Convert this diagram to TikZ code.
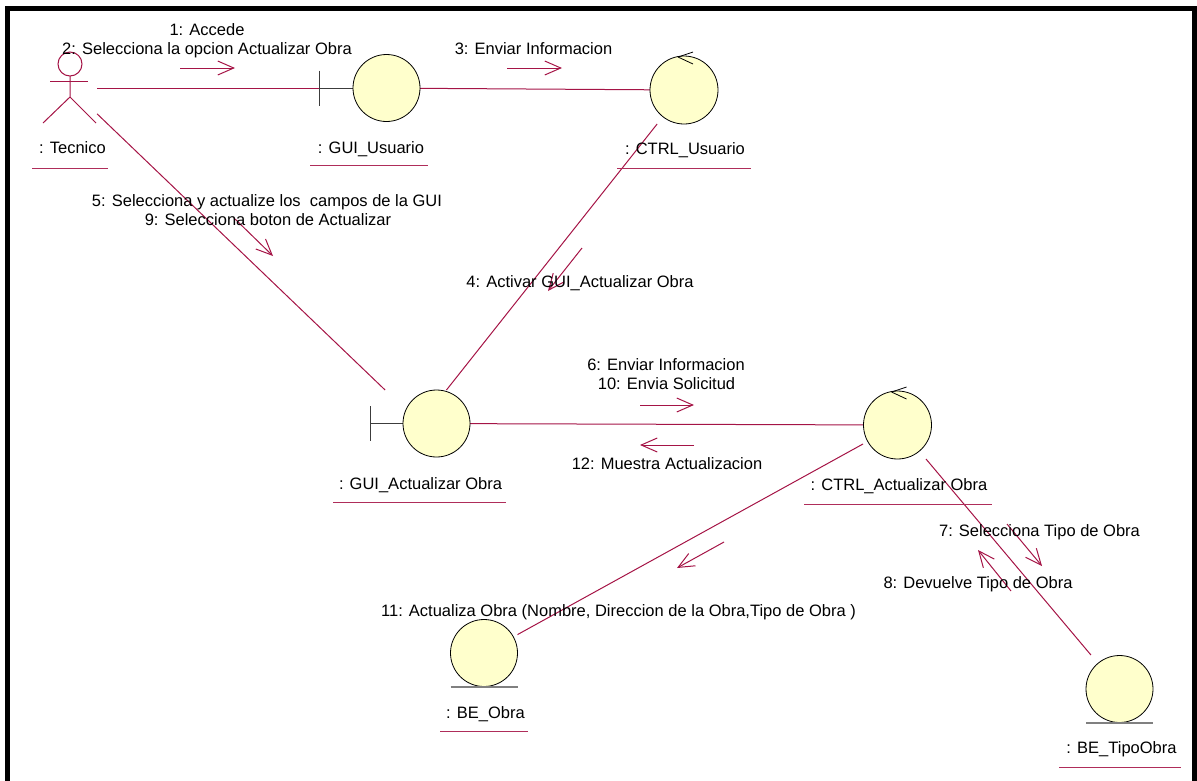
\documentclass[tikz,border=0pt]{standalone}
\usepackage{fontspec}
\setmainfont{Liberation Sans}
\usetikzlibrary{arrows.meta,calc}
\definecolor{link}{RGB}{165,20,70}
\definecolor{uline}{RGB}{175,45,90}
\definecolor{objfill}{RGB}{255,255,204}
\definecolor{barcol}{RGB}{60,60,60}
\definecolor{entline}{RGB}{128,128,128}
\begin{document}
\begin{tikzpicture}[x=1pt,y=-1pt,
  box/.style={rectangle, inner sep=0pt, outer sep=0pt},
  lnk/.style={draw=link, line width=1pt},
  msg/.style={draw=link, line width=1pt, -{Straight Barb[length=16pt,width=14pt]}},
  lbl/.style={font=\fontsize{16.5}{18}\selectfont, text=black, inner sep=0pt, anchor=base},
  ul/.style={draw=uline, line width=1pt},
  ball/.style={fill=objfill, draw=black, line width=0.8pt},
  bar/.style={draw=barcol, line width=1pt},
  ctlmark/.style={draw=black, line width=0.8pt},
  entbase/.style={draw=entline, line width=1.6pt},
  actor/.style={draw=link, line width=1pt},
]
\useasboundingbox (0,0) rectangle (1197,780);
\clip (0,0) rectangle (1197,780);

% outer frame (its lower edge lies below the page)
\draw[line width=5pt] (7.5,8.5) rectangle (1194,800);

% object boxes (links are clipped at these boxes)
\node[box, minimum width=54pt, minimum height=72pt]  (tec)  at (70,88) {};
\node[box, minimum width=101pt, minimum height=67pt] (guiu) at (369.5,88) {};
\node[box, minimum width=68pt, minimum height=68pt]  (ctlu) at (684,90) {};
\node[box, minimum width=100pt, minimum height=67pt] (guia) at (420,423.5) {};
\node[box, minimum width=69pt, minimum height=68pt]  (ctla) at (897.5,425) {};
\node[box, minimum width=67pt, minimum height=68pt]  (beo)  at (484,653) {};
\node[box, minimum width=67pt, minimum height=68pt]  (bet)  at (1119.5,689) {};

% links
\draw[lnk] (tec) -- (guiu);
\draw[lnk] (guiu) -- (ctlu);
\draw[lnk] (tec) -- (guia);
\draw[lnk] (ctlu) -- (guia);
\draw[lnk] (guia) -- (ctla);
\draw[lnk] (ctla) -- (beo);
\draw[lnk] (ctla) -- (bet);

% actor
\draw[actor] (70,64) circle[radius=12pt];
\draw[actor] (50,81) -- (88,81);
\draw[actor] (70,76) -- (70,97) -- (43,123) (70,97) -- (96,123);

% boundary objects
\draw[bar] ($(guiu.west)+(0,-17.5)$) -- ($(guiu.west)+(0,17.5)$);
\draw[bar] (guiu.west) -- ++(34,0);
\draw[ball] ($(guiu.east)+(-33.5,0)$) circle[radius=33.5pt];

\draw[bar] ($(guia.west)+(0,-17.5)$) -- ($(guia.west)+(0,17.5)$);
\draw[bar] (guia.west) -- ++(33,0);
\draw[ball] ($(guia.east)+(-33.5,0)$) circle[radius=33.5pt];

% control objects
\draw[ball] (ctlu.center) circle[radius=34pt];
\draw[ctlmark] ($(ctlu.north)+(-6,1)$) -- ++(15,-5) ($(ctlu.north)+(-6,1)$) -- ++(15,7);
\draw[ball] (ctla.center) circle[radius=34pt];
\draw[ctlmark] ($(ctla.north)+(-6,1)$) -- ++(15,-5) ($(ctla.north)+(-6,1)$) -- ++(15,7);

% entity objects
\draw[ball] (beo.center) circle[radius=33.5pt];
\draw[entbase] (beo.south west) -- (beo.south east);
\draw[ball] (bet.center) circle[radius=33.5pt];
\draw[entbase] (bet.south west) -- (bet.south east);

% object names
\node[lbl] (ntec)  at (72.5,153)  {: Tecnico};
\node[lbl] (nguiu) at (371,153)   {: GUI\_Usuario};
\node[lbl] (nctlu) at (685,154)   {: CTRL\_Usuario};
\node[lbl] (nguia) at (420.5,489) {: GUI\_Actualizar Obra};
\node[lbl] (nctla) at (899,490)   {: CTRL\_Actualizar Obra};
\node[lbl] (nbeo)  at (485.5,718) {: BE\_Obra};
\node[lbl] (nbet)  at (1121.5,753){: BE\_TipoObra};

\draw[ul] (32,168) -- (108,168);
\draw[ul] (310,165) -- (428,165);
\draw[ul] (617,168) -- (751,168);
\draw[ul] (333,502) -- (506,502);
\draw[ul] (804,504) -- (992,504);
\draw[ul] (440,731) -- (528,731);
\draw[ul] (1059,767) -- (1181,767);

% message arrows
\coordinate (m1a) at (180,68);   \coordinate (m1b) at (235,68);
\coordinate (m3a) at (507,68);   \coordinate (m3b) at (562,68);
\coordinate (m5a) at (234,218);  \coordinate (m5b) at (273,256);
\coordinate (m4a) at (582,248);  \coordinate (m4b) at (548,291);
\coordinate (m6a) at (640,405);  \coordinate (m6b) at (694,405);
\coordinate (m12a) at (694,445); \coordinate (m12b) at (640,445);
\coordinate (m11a) at (724,542); \coordinate (m11b) at (677,568);
\coordinate (m7a) at (1007,524); \coordinate (m7b) at (1042,566);
\coordinate (m8a) at (1011,591); \coordinate (m8b) at (978,550);

\draw[msg] (m1a) -- (m1b);
\draw[msg] (m3a) -- (m3b);
\draw[msg] (m5a) -- (m5b);
\draw[msg] (m4a) -- (m4b);
\draw[msg] (m6a) -- (m6b);
\draw[msg] (m12a) -- (m12b);
\draw[msg] (m11a) -- (m11b);
\draw[msg] (m7a) -- (m7b);
\draw[msg] (m8a) -- (m8b);

% message labels
\node[lbl] (t1)  at (207,35)    {1: Accede};
\node[lbl] (t2)  at (207,54)    {2: Selecciona la opcion Actualizar Obra};
\node[lbl] (t3)  at (533.5,54)  {3: Enviar Informacion};
\node[lbl] (t5)  at (267,206)   {5: Selecciona y actualize los\ \ campos de la GUI};
\node[lbl] (t9)  at (268,225)   {9: Selecciona boton de Actualizar};
\node[lbl] (t4)  at (580,287)   {4: Activar GUI\_Actualizar Obra};
\node[lbl] (t6)  at (666,370)   {6: Enviar Informacion};
\node[lbl] (t10) at (666.5,389) {10: Envia Solicitud};
\node[lbl] (t12) at (667,469)   {12: Muestra Actualizacion};
\node[lbl] (t7)  at (1039.5,536){7: Selecciona Tipo de Obra};
\node[lbl] (t8)  at (978,588)   {8: Devuelve Tipo de Obra};
\node[lbl] (t11) at (618.5,616) {11: Actualiza Obra (Nombre, Direccion de la Obra,Tipo de Obra )};
\end{tikzpicture}
\end{document}
